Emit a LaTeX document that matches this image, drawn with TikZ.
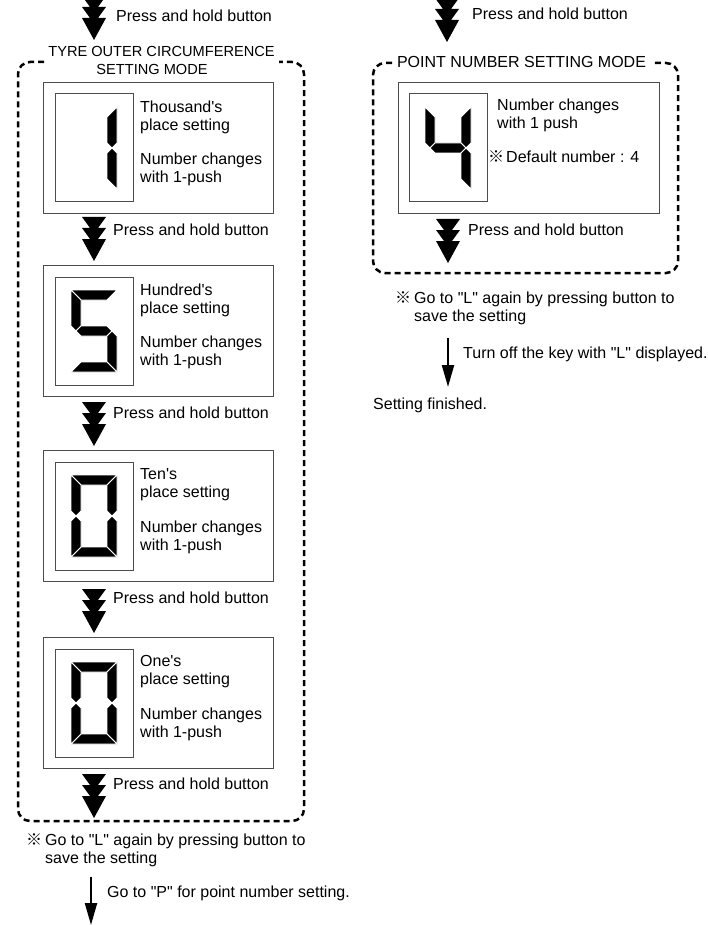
\documentclass[tikz,border=0pt]{standalone}
\usepackage{fontspec}
\newfontfamily\labelfont{Liberation Sans}
\newfontfamily\cjk{Noto Sans CJK JP}
\usetikzlibrary{arrows.meta}

\tikzset{
	every node/.style={font=\labelfont\fontsize{16}{18}\selectfont, inner sep=0pt},
	note/.style={anchor=base west},
	boxtext/.style={anchor=north west, align=left},
	titletext/.style={anchor=base, font=\labelfont\fontsize{14.6}{18}\selectfont},
	modebox/.style={line width=2.5pt, dash pattern=on 6pt off 4pt, rounded corners=12pt},
	stepbox/.style={anchor=north west, draw=black!70, line width=1pt, minimum width=230pt, minimum height=131pt},
	digitframe/.style={draw=black!70, line width=1pt, minimum width=78pt, minimum height=108pt},
	segment/.style={fill=black, draw=white, line width=0.8pt},
	turnarrow/.style={line width=2.2pt, -{Triangle[width=12pt,length=22pt]}}
}

% segments of the display, y grows downwards
\newcommand{\segA}{\filldraw[segment] (-23,-41) -- (23,-41) -- (13,-31) -- (-13,-31) -- cycle;}
\newcommand{\segB}{\filldraw[segment] (23,-41) -- (13,-31) -- (13,-5) -- (18,0) -- (23,-5) -- cycle;}
\newcommand{\segC}{\filldraw[segment] (23,41) -- (13,31) -- (13,5) -- (18,0) -- (23,5) -- cycle;}
\newcommand{\segD}{\filldraw[segment] (-23,41) -- (23,41) -- (13,31) -- (-13,31) -- cycle;}
\newcommand{\segE}{\filldraw[segment] (-23,41) -- (-13,31) -- (-13,5) -- (-18,0) -- (-23,5) -- cycle;}
\newcommand{\segF}{\filldraw[segment] (-23,-41) -- (-13,-31) -- (-13,-5) -- (-18,0) -- (-23,-5) -- cycle;}
\newcommand{\segG}{\filldraw[segment] (-18,0) -- (-13,-5) -- (13,-5) -- (18,0) -- (13,5) -- (-13,5) -- cycle;}
\newcommand{\sevenseg}[2]{\begin{scope}[shift={(#1)}]\foreach \s in {#2}{\s}\end{scope}}

% stacked arrow, #1 is the tip
\newcommand{\holdarrow}[1]{\fill[shift={(#1)}] (-12,-44) -- (12,-44) -- (4,-33) -- (12,-33) -- (4,-22) -- (12,-22) -- (0,0)
	-- (-12,-22) -- (-4,-22) -- (-12,-33) -- (-4,-33) -- cycle;}

\begin{document}
\begin{tikzpicture}[x=1pt, y=-1pt]
	\useasboundingbox (0,0) rectangle (707,925);

	% tyre outer circumference
	\coordinate (tipL0) at (94,40);
	\holdarrow{tipL0}
	\node[note] (pressL0) at (116,22) {Press and hold button};
	\node[titletext] (tyretitle) at (161.5,57) {TYRE OUTER CIRCUMFERENCE};
	\node[titletext] (tyretitleb) at (152,75) {SETTING MODE};
	\draw[modebox] (44,62) -- (18,62) -- (18,821) -- (304,821) -- (304,62) -- (279,62);

	\foreach \n/\ytop/\place in {1/82/Thousand's,2/265/Hundred's,3/450/Ten's,4/637/One's} {
		\node[stepbox] (tbox\n) at (43,\ytop) {};
		\node[digitframe] (digit\n) at ([xshift=51pt]tbox\n.west) {};
		\node[boxtext] (place\n) at ([xshift=97pt,yshift=-18.4pt]tbox\n.north west) {\place\\place setting};
		\node[boxtext] (push\n) at ([xshift=97pt,yshift=-70.4pt]tbox\n.north west) {Number changes\\with 1-push};
	}
	\sevenseg{digit1.center}{\segB,\segC}
	\sevenseg{digit2.center}{\segA,\segF,\segG,\segC,\segD}
	\sevenseg{digit3.center}{\segA,\segB,\segC,\segD,\segE,\segF}
	\sevenseg{digit4.center}{\segA,\segB,\segC,\segD,\segE,\segF}

	\foreach \a/\b in {1/2,2/3,3/4} {
		\path (digit\b.center |- tbox\b.north) ++(0,-4) coordinate (tip\b);
		\holdarrow{tip\b}
		\path (tip\b |- tbox\a.south) ++(19,21) node[note] (press\b) {Press and hold button};
	}
	\path (digit4.center |- tbox4.south) ++(0,49) coordinate (tip5);
	\holdarrow{tip5}
	\path (tip5 |- tbox4.south) ++(19,20) node[note] (press5) {Press and hold button};

	\node[boxtext] (saveL) at (26,833) {{\cjk ※}\hspace{3pt}Go to "L" again by pressing button to\\\hspace{19pt}save the setting};
	\coordinate (gotop) at (91,877);
	\coordinate (goend) at (91,925);
	\draw[turnarrow] (gotop) -- (goend);
	\node[note] (gotoP) at (107,897) {Go to "P" for point number setting.};

	% point number
	\coordinate (tipR0) at (447,42);
	\holdarrow{tipR0}
	\node[note] (pressR0) at (472,20) {Press and hold button};
	\node[anchor=base] (pointtitle) at (521.5,68) {POINT NUMBER SETTING MODE};
	\draw[modebox] (392,63) -- (373,63) -- (373,273) -- (678,273) -- (678,63) -- (651,63);

	\node[stepbox, minimum width=261pt] (pbox) at (398,82) {};
	\node[digitframe] (digit5) at ([xshift=50pt]pbox.west) {};
	\sevenseg{digit5.center}{\segF,\segB,\segG,\segC}
	\node[boxtext] (pushR) at (497,98.4) {Number changes\\with 1 push};
	\node[note] (default) at (488,163) {{\cjk ※}\hspace{2pt}Default number : 4};
	\path (digit5.center |- pbox.south) ++(0,49) coordinate (tipR1);
	\holdarrow{tipR1}
	\path (tipR1 |- pbox.south) ++(20,22) node[note] (pressR1) {Press and hold button};

	\node[boxtext] (saveR) at (395,291) {{\cjk ※}\hspace{3pt}Go to "L" again by pressing button to\\\hspace{19pt}save the setting};
	\coordinate (offtop) at (448,338);
	\coordinate (offend) at (448,387);
	\draw[turnarrow] (offtop) -- (offend);
	\node[note] (turnoff) at (463,358) {Turn off the key with "L" displayed.};
	\node[note] (finished) at (373,409) {Setting finished.};
\end{tikzpicture}
\end{document}
